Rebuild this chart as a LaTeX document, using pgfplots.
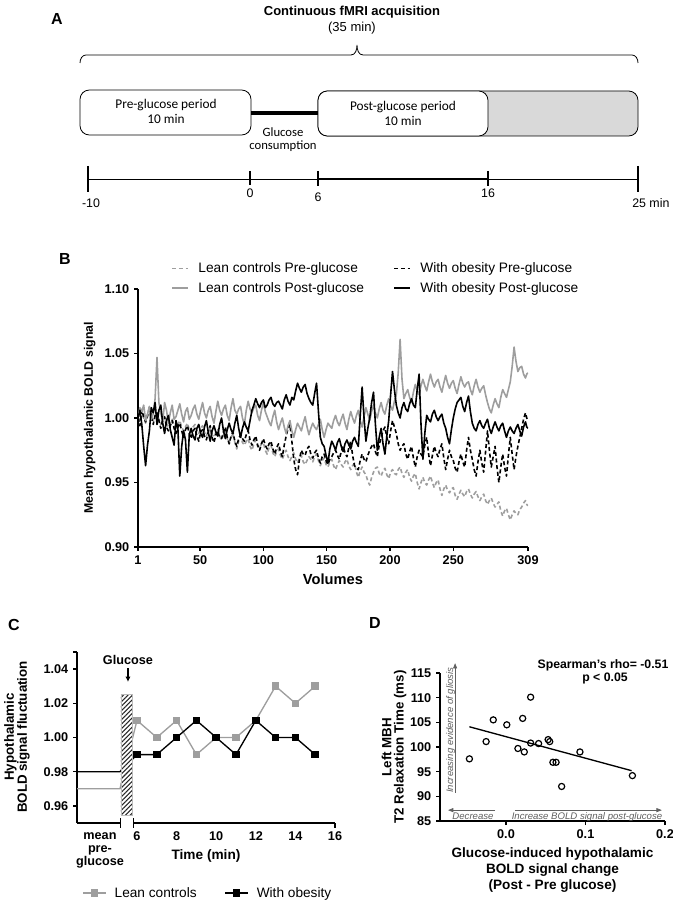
\documentclass[border=0pt]{standalone}
\usepackage{pgfplots}
\usepackage{pgfplotstable}
\pgfplotsset{compat=1.18}
\usepackage{fontspec}
\setmainfont{Liberation Sans}
\newfontfamily\calfont{Carlito}
\usetikzlibrary{patterns.meta,arrows.meta}
\definecolor{lgray}{RGB}{158,158,158}
\definecolor{boxgray}{RGB}{217,217,217}
\definecolor{agray}{RGB}{95,95,95}
\newcommand{\fs}[2]{\fontsize{#1}{#2}\selectfont}

\pgfplotstableread{
v lpre lpost opre opost
1 1.000 1.000 1.000 1.000
2.5 0.997 1.008 0.994 1.006
4 1.003 1.005 1.006 0.995
5.5 1.000 1.010 1.001 0.978
7 0.996 0.998 0.997 0.963
8.5 1.001 1.003 1.002 0.979
10 1.004 1.009 1.008 0.990
11.5 0.999 0.999 1.001 1.008
13 0.998 1.003 0.995 1.004
14.5 1.001 1.015 1.002 1.012
16 1.003 1.047 1.004 0.995
17.5 0.999 1.012 0.998 1.006
19 0.995 1.004 0.992 1.010
20.5 0.998 0.997 0.999 0.996
22 1.000 1.012 1.001 0.988
23.5 0.996 1.006 0.993 0.998
25 0.993 0.996 0.990 1.002
26.5 0.995 1.004 0.994 0.991
28 0.999 1.010 0.998 0.985
29.5 0.994 0.999 0.992 0.979
31 0.992 1.001 0.988 0.998
32.5 0.995 1.006 0.993 0.992
34 0.998 1.011 0.996 0.955
35.5 0.993 1.003 0.990 0.978
37 0.990 0.997 0.985 0.990
38.5 0.993 1.005 0.991 0.983
40 0.996 1.008 0.994 0.958
41.5 0.991 0.999 0.988 0.987
43 0.989 1.002 0.984 0.992
44.5 0.993 1.007 0.990 0.986
46 0.995 1.010 0.992 0.983
47.5 0.990 1.003 0.986 0.992
49 0.988 0.999 0.982 0.995
50.5 0.992 1.006 0.989 0.988
52 0.994 1.012 0.991 0.985
53.5 0.989 1.004 0.986 0.993
55 0.986 1.000 0.983 0.998
56.5 0.990 1.006 0.989 0.989
58 0.992 1.009 0.994 0.982
59.5 0.987 1.001 0.985 0.990
61 0.985 0.996 0.981 0.994
62.5 0.989 1.005 0.987 0.989
64 0.991 1.013 0.990 0.986
65.5 0.986 1.006 0.985 0.995
67 0.983 1.002 0.984 1.000
68.5 0.987 1.007 0.989 0.990
70 0.990 1.010 0.993 0.984
71.5 0.984 1.002 0.985 0.991
73 0.980 0.998 0.980 0.996
74.5 0.985 1.008 0.986 0.991
76 0.988 1.015 0.989 0.988
77.5 0.981 1.006 0.982 0.996
79 0.976 1.003 0.978 1.002
80.5 0.982 1.007 0.984 0.992
82 0.986 1.009 0.987 0.985
83.5 0.981 1.000 0.984 0.992
85 0.979 0.995 0.982 0.997
86.5 0.982 1.006 0.987 0.993
88 0.984 1.013 0.990 0.990
89.5 0.978 1.007 0.983 0.998
91 0.975 1.004 0.979 1.006
92.5 0.980 1.008 0.983 1.010
94 0.983 1.010 0.986 1.015
95.5 0.978 1.002 0.979 1.011
97 0.977 0.998 0.975 1.008
98.5 0.980 1.006 0.980 1.012
100 0.981 1.012 0.984 1.014
101.5 0.975 1.005 0.979 1.008
103 0.972 1.001 0.976 1.010
104.5 0.977 0.997 0.980 1.014
106 0.979 0.994 0.982 1.016
107.5 0.973 1.001 0.976 1.011
109 0.970 1.006 0.972 1.009
110.5 0.974 0.997 0.977 1.012
112 0.976 0.991 0.980 1.013
113.5 0.971 0.996 0.974 1.010
115 0.968 1.000 0.970 1.007
116.5 0.972 0.993 0.979 1.014
118 0.975 0.988 0.986 1.018
119.5 0.970 0.994 0.992 1.013
121 0.967 0.998 0.995 1.010
122.5 0.970 0.990 0.982 1.016
124 0.973 0.985 0.968 1.014
125.5 0.968 0.991 0.960 1.021
127 0.965 0.996 0.956 1.027
128.5 0.969 0.993 0.968 1.023
130 0.971 0.990 0.975 1.020
131.5 0.966 0.996 0.972 1.024
133 0.964 1.001 0.971 1.026
134.5 0.967 0.993 0.976 1.019
136 0.970 0.987 0.978 1.015
137.5 0.968 0.992 0.972 1.012
139 0.966 0.996 0.969 1.010
140.5 0.970 0.993 0.973 1.019
142 0.972 0.991 0.975 1.027
143.5 0.967 0.995 0.969 1.005
145 0.963 0.999 0.965 0.985
146.5 0.967 0.991 0.970 0.980
148 0.969 0.985 0.972 0.978
149.5 0.964 0.991 0.967 0.971
151 0.962 0.996 0.964 0.965
152.5 0.966 0.994 0.968 0.976
154 0.968 0.992 0.970 0.982
155.5 0.963 0.998 0.973 0.979
157 0.960 1.002 0.975 0.975
158.5 0.964 0.997 0.971 0.981
160 0.967 0.994 0.968 0.984
161.5 0.964 0.999 0.974 0.978
163 0.962 1.003 0.978 0.974
164.5 0.966 0.996 0.973 0.980
166 0.968 0.991 0.970 0.983
167.5 0.963 0.999 0.977 0.979
169 0.960 1.005 0.982 0.976
170.5 0.963 1.000 0.971 0.982
172 0.965 0.996 0.963 0.985
173.5 0.958 1.002 0.961 0.981
175 0.954 1.006 0.960 0.978
176.5 0.959 0.998 0.967 1.002
178 0.962 0.993 0.972 1.024
179.5 0.958 1.001 0.968 1.000
181 0.956 1.008 0.966 0.982
182.5 0.951 1.003 0.971 0.992
184 0.948 0.998 0.975 1.000
185.5 0.954 1.005 0.978 1.012
187 0.958 1.010 0.980 1.020
188.5 0.961 1.004 0.974 0.995
190 0.962 1.000 0.970 0.975
191.5 0.957 1.007 0.979 0.985
193 0.955 1.012 0.985 0.992
194.5 0.959 1.006 0.990 0.980
196 0.961 1.003 0.993 0.972
197.5 0.956 1.010 0.985 0.986
199 0.953 1.015 0.980 0.998
200.5 0.958 1.009 0.990 1.018
202 0.960 1.006 0.998 1.036
203.5 0.957 1.013 0.993 1.022
205 0.956 1.018 0.988 1.010
206.5 0.960 1.035 0.980 1.004
208 0.962 1.061 0.975 1.000
209.5 0.957 1.030 0.978 1.008
211 0.954 1.015 0.980 1.012
212.5 0.958 1.019 0.972 1.007
214 0.960 1.022 0.968 1.005
215.5 0.954 1.016 0.974 1.011
217 0.951 1.012 0.978 1.015
218.5 0.955 1.020 0.969 1.010
220 0.957 1.026 0.962 1.008
221.5 0.950 1.021 0.970 1.022
223 0.945 1.018 0.975 1.034
224.5 0.950 1.025 0.972 0.995
226 0.954 1.030 0.970 0.968
227.5 0.950 1.025 0.979 0.988
229 0.948 1.021 0.985 1.002
230.5 0.952 1.028 0.972 0.999
232 0.955 1.034 0.963 0.997
233.5 0.950 1.028 0.971 1.003
235 0.946 1.024 0.978 1.006
236.5 0.950 1.028 0.973 1.001
238 0.952 1.030 0.970 0.998
239.5 0.945 1.024 0.976 1.001
241 0.940 1.020 0.980 1.003
242.5 0.945 1.027 0.969 0.996
244 0.948 1.033 0.960 0.992
245.5 0.944 1.027 0.968 0.985
247 0.942 1.023 0.975 0.980
248.5 0.945 1.027 0.970 0.991
250 0.946 1.029 0.967 1.000
251.5 0.940 1.023 0.961 1.007
253 0.937 1.019 0.958 1.012
254.5 0.941 1.026 0.966 1.014
256 0.944 1.032 0.972 1.016
257.5 0.941 1.027 0.966 1.009
259 0.939 1.024 0.962 1.005
260.5 0.943 1.027 0.975 1.012
262 0.945 1.028 0.985 1.017
263.5 0.941 1.022 0.975 1.005
265 0.938 1.018 0.968 0.996
266.5 0.941 1.025 0.960 0.992
268 0.943 1.030 0.955 0.990
269.5 0.939 1.024 0.966 0.995
271 0.936 1.020 0.975 0.998
272.5 0.939 1.023 0.965 0.994
274 0.941 1.025 0.958 0.992
275.5 0.936 1.018 0.974 0.996
277 0.933 1.012 0.990 0.999
278.5 0.936 1.007 0.975 0.992
280 0.938 1.004 0.962 0.988
281.5 0.934 1.010 0.970 0.993
283 0.931 1.015 0.978 0.997
284.5 0.933 1.011 0.962 0.993
286 0.935 1.008 0.950 0.990
287.5 0.928 1.016 0.962 0.994
289 0.924 1.022 0.972 0.996
290.5 0.928 1.019 0.962 0.990
292 0.930 1.016 0.955 0.985
293.5 0.925 1.022 0.971 0.990
295 0.921 1.028 0.985 0.993
296.5 0.925 1.040 0.972 0.990
298 0.928 1.055 0.960 0.988
299.5 0.926 1.044 0.970 0.992
301 0.925 1.036 0.978 0.995
302.5 0.929 1.039 0.985 0.990
304 0.931 1.040 0.992 0.986
305.5 0.934 1.034 0.999 0.993
307 0.936 1.031 1.004 0.997
308 0.933 1.034 1.000 0.993
309 0.932 1.035 0.998 0.992
}\boldtab

\begin{document}
\begin{tikzpicture}
\useasboundingbox (0pt,0pt) rectangle (504.75pt,675pt);
% ---------- canvas axis (pixel coordinates, y = 900 - row) ----------
\begin{axis}[at={(0pt,0pt)}, anchor=south west, scale only axis,
  width=504.75pt, height=675pt, xmin=0, xmax=673, ymin=0, ymax=900,
  hide axis, clip=false]
 \node[font=\bfseries\fs{12}{14}] at (57,881) {A};
 \node[font=\bfseries\fs{12}{14}] at (65,641) {B};
 \node[font=\bfseries\fs{12}{14}] at (14,275) {C};
 \node[font=\bfseries\fs{12}{14}] at (375,277) {D};
 % panel A
 \node[font=\bfseries\fs{9.75}{12}] at (352,888) {Continuous fMRI acquisition};
 \node[font=\fs{9.75}{12}] at (352,872) {(35 min)};
 \draw[line width=0.6pt] (80,837) to[out=90,in=180] (86,845) -- (351,845)
   to[out=0,in=-90] (357,855) to[out=-90,in=180] (363,845) -- (632,845) to[out=0,in=90] (638,837);
 \draw[line width=0.6pt, fill=white, rounded corners=7pt] (80,810) rectangle (251,765);
 \draw[line width=2.5pt] (251,787) -- (318,787);
 \filldraw[line width=0.6pt, fill=boxgray, rounded corners=7pt] (318,809) rectangle (638,764);
 \filldraw[line width=0.6pt, fill=white, rounded corners=7pt] (318,809) rectangle (488,764);
 \node[font=\calfont\fs{10}{11.25}, align=center] at (166,789) {Pre-glucose period\\10 min};
 \node[font=\calfont\fs{10}{11.25}, align=center] at (403,787) {Post-glucose period\\10 min};
 \node[font=\calfont\fs{9.5}{9.75}, align=center] at (283,760) {Glucose\\consumption};
 \draw[line width=0.6pt] (88,721) -- (638,721);
 \draw[line width=2.2pt] (318,721) -- (488,721);
 \draw[line width=0.9pt] (88,734) -- (88,708);
 \draw[line width=0.9pt] (638,734) -- (638,708);
 \draw[line width=0.9pt] (250,729) -- (250,715);
 \draw[line width=2pt] (318,729) -- (318,714);
 \draw[line width=2pt] (488,729) -- (488,714);
 \node[font=\fs{9.3}{11}] at (91,697) {-10};
 \node[font=\fs{9.3}{11}] at (250,707) {0};
 \node[font=\fs{9.3}{11}] at (318,703) {6};
 \node[font=\fs{9.3}{11}] at (488,707) {16};
 \node[font=\fs{9.3}{11}, anchor=west, inner xsep=0pt] at (632,697) {25 min};
 % y labels of C and D
 \node[rotate=90, align=center, font=\bfseries\fs{10}{9.8}] at (17,163) {Hypothalamic\\BOLD signal fluctuation};
 \node[rotate=90, align=center, font=\bfseries\fs{10}{9.2}] at (394,153) {Left MBH\\T2 Relaxation Time (ms)};
\end{axis}

% ---------- panel B ----------
\begin{axis}[at={(103.5pt,264.75pt)}, anchor=south west, scale only axis,
  width=292.5pt, height=193.5pt,
  xmin=1, xmax=309, ymin=0.9, ymax=1.1,
  axis lines=left, axis line style={-,line width=1.1pt},
  tick align=outside, major tick length=3pt, tick style={line width=1.1pt,black},
  xtick={1,50,100,150,200,250,309}, ytick={0.90,0.95,1.00,1.05,1.10},
  yticklabel style={/pgf/number format/.cd,fixed,fixed zerofill,precision=2},
  /pgf/number format/assume math mode=true,
  tick label style={font=\bfseries\fs{9.5}{11}},
  xlabel={Volumes}, xlabel style={font=\bfseries\fs{11}{13}},
  ylabel={Mean hypothalamic BOLD signal}, ylabel style={font=\bfseries\fs{9.25}{11}},
  legend columns=2,
  legend cell align=left,
  legend image code/.code={\draw[#1] (0pt,0pt) -- (12pt,0pt);},
  legend style={at={(0.075,1.125)}, anchor=north west, draw=none, fill=none,
    font=\fs{10.3}{12}, row sep=2pt,
    /tikz/every odd column/.append style={column sep=5pt},
    /tikz/every even column/.append style={column sep=20pt}},
  line join=round,
]
\addplot[lgray, line width=1.2pt, dash pattern=on 3pt off 2pt] table[x=v,y=lpre] {\boldtab};
\addplot[black, line width=1.2pt, dash pattern=on 3pt off 2pt] table[x=v,y=opre] {\boldtab};
\addplot[lgray, line width=1.2pt] table[x=v,y=lpost] {\boldtab};
\addplot[black, line width=1.2pt] table[x=v,y=opost] {\boldtab};
\legend{Lean controls Pre-glucose, With obesity Pre-glucose, Lean controls Post-glucose, With obesity Post-glucose}
\end{axis}

% ---------- panel C ----------
\begin{axis}[at={(57.75pt,57.75pt)}, anchor=south west, scale only axis,
  width=193.5pt, height=128.25pt,
  xmin=2.97, xmax=16, ymin=0.95, ymax=1.05, clip=false,
  axis lines=left, axis line style={-,line width=1.1pt}, x axis line style={draw=none},
  tick align=outside, major tick length=3pt, tick style={line width=1.1pt,black},
  x tick style={draw=none},
  xtick={6,8,10,12,14,16}, ytick={0.96,0.98,1.00,1.02,1.04},
  extra y ticks={1.05}, extra y tick labels={},
  yticklabel style={/pgf/number format/.cd,fixed,fixed zerofill,precision=2},
  /pgf/number format/assume math mode=true,
  tick label style={font=\bfseries\fs{9.5}{11}},
  xlabel={Time (min)}, xlabel style={font=\bfseries\fs{10.25}{12}},
  legend columns=2,
  legend style={at={(0.005,-0.41)}, anchor=west, draw=none, fill=none,
    font=\fs{10.25}{12},
    /tikz/every odd column/.append style={column sep=4pt},
    /tikz/every even column/.append style={column sep=19pt}},
]
\addplot[lgray, line width=1pt, forget plot] coordinates {(2.97,0.97) (5.14,0.97) (6,1.01)};
\addplot[black, line width=1pt, forget plot] coordinates {(2.97,0.98) (5.14,0.98) (6,0.99)};
\addplot[lgray, line width=1pt, mark=square*, mark size=2.3pt, mark options={fill=lgray,draw=lgray}]
  coordinates {(6,1.01) (7,1.00) (8,1.01) (9,0.99) (10,1.00) (11,1.00) (12,1.01) (13,1.03) (14,1.02) (15,1.03)};
\addplot[black, line width=1pt, mark=square*, mark size=2.3pt, mark options={fill=black}]
  coordinates {(6,0.99) (7,0.99) (8,1.00) (9,1.01) (10,1.00) (11,0.99) (12,1.01) (13,1.00) (14,1.00) (15,0.99)};
\legend{Lean controls, With obesity}
\fill[white] (axis cs:5.19,0.9548) rectangle (axis cs:5.75,1.025);
\fill[pattern={Lines[angle=45,distance=2.4pt,line width=0.8pt]}, pattern color=black!85] (axis cs:5.19,0.9548) rectangle (axis cs:5.75,1.025);
\draw[lgray!70, line width=0.4pt] (axis cs:5.19,0.9548) rectangle (axis cs:5.75,1.025);
\draw[line width=1.1pt] (axis cs:2.97,0.95) -- (axis cs:5.16,0.95);
\draw[line width=1.1pt] ([yshift=-3.5pt]axis cs:5.16,0.95) -- ([yshift=3.5pt]axis cs:5.16,0.95);
\draw[line width=1.1pt] (axis cs:5.82,0.95) -- (axis cs:16,0.95);
\draw[line width=1.1pt] ([yshift=-3.5pt]axis cs:5.82,0.95) -- ([yshift=3.5pt]axis cs:5.82,0.95);
\draw[line width=1.1pt] (axis cs:16,0.95) -- ([yshift=-3.5pt]axis cs:16,0.95);
\node[font=\bfseries\fs{9.5}{11}] at (axis cs:5.545,1.0452) {Glucose};
\draw[-{Latex[length=4pt,width=4pt]}, line width=1pt] (axis cs:5.545,1.0405) -- (axis cs:5.545,1.0325);
\node[font=\bfseries\fs{9.5}{9.75}, align=center, anchor=north] at (axis cs:4.13,0.947) {mean\\pre-\\glucose};
\end{axis}

% ---------- panel D ----------
\begin{axis}[at={(330pt,59.25pt)}, anchor=south west, scale only axis,
  width=168.75pt, height=111pt,
  xmin=-0.083, xmax=0.2, ymin=85, ymax=115, clip=false,
  axis lines=left, axis line style={-,line width=1.1pt},
  tick align=outside, major tick length=3pt, tick style={line width=1.1pt,black},
  xtick={0,0.1,0.2}, ytick={85,90,95,100,105,110,115},
  xticklabel style={/pgf/number format/.cd,fixed,fixed zerofill,precision=1},
  scaled ticks=false,
  /pgf/number format/assume math mode=true,
  tick label style={font=\bfseries\fs{9.5}{11}},
  xlabel={Glucose-induced hypothalamic\\BOLD signal change\\(Post - Pre glucose)},
  xlabel style={align=center, font=\bfseries\fs{10.2}{12}},
]
\addplot[black, line width=1pt] coordinates {(-0.046,104.1) (0.158,95.2)};
\addplot[only marks, mark=o, mark size=2.3pt, mark options={line width=0.9pt, fill=white}, black]
  coordinates {(-0.046,97.6) (-0.025,101.1) (-0.016,105.5) (0.001,104.5) (0.021,105.8) (0.031,110.1)
  (0.015,99.7) (0.023,99.0) (0.031,100.8) (0.041,100.7) (0.053,101.5) (0.055,101.1)
  (0.059,96.9) (0.063,96.9) (0.070,92.0) (0.093,99.0) (0.159,94.2)};
\draw[agray, line width=0.6pt, -{Triangle[length=4pt,width=3pt]}] (axis cs:-0.064,90.7) -- (axis cs:-0.064,117.0);
\draw[agray, line width=0.6pt, -{Triangle[length=4pt,width=3pt]}] (axis cs:-0.0138,87.2) -- (axis cs:-0.073,87.2);
\draw[agray, line width=0.6pt, -{Triangle[length=4pt,width=3pt]}] (axis cs:0.0113,87.2) -- (axis cs:0.196,87.2);
\node[agray, rotate=90, anchor=base, font=\itshape\fs{7.2}{8}] at (axis cs:-0.0665,103.4) {Increasing evidence of gliosis};
\node[agray, anchor=base, font=\itshape\fs{7.2}{8}] at (axis cs:-0.0415,85.25) {Decrease};
\node[agray, anchor=base, font=\itshape\fs{7.2}{8}] at (axis cs:0.1019,85.25) {Increase BOLD signal post-glucose};
\node[font=\bfseries\fs{9.2}{11}] at (axis cs:0.122,116.6) {Spearman's rho= -0.51};
\node[font=\bfseries\fs{9.2}{11}] at (axis cs:0.1245,113.9) {p < 0.05};
\end{axis}
\end{tikzpicture}
\end{document}
